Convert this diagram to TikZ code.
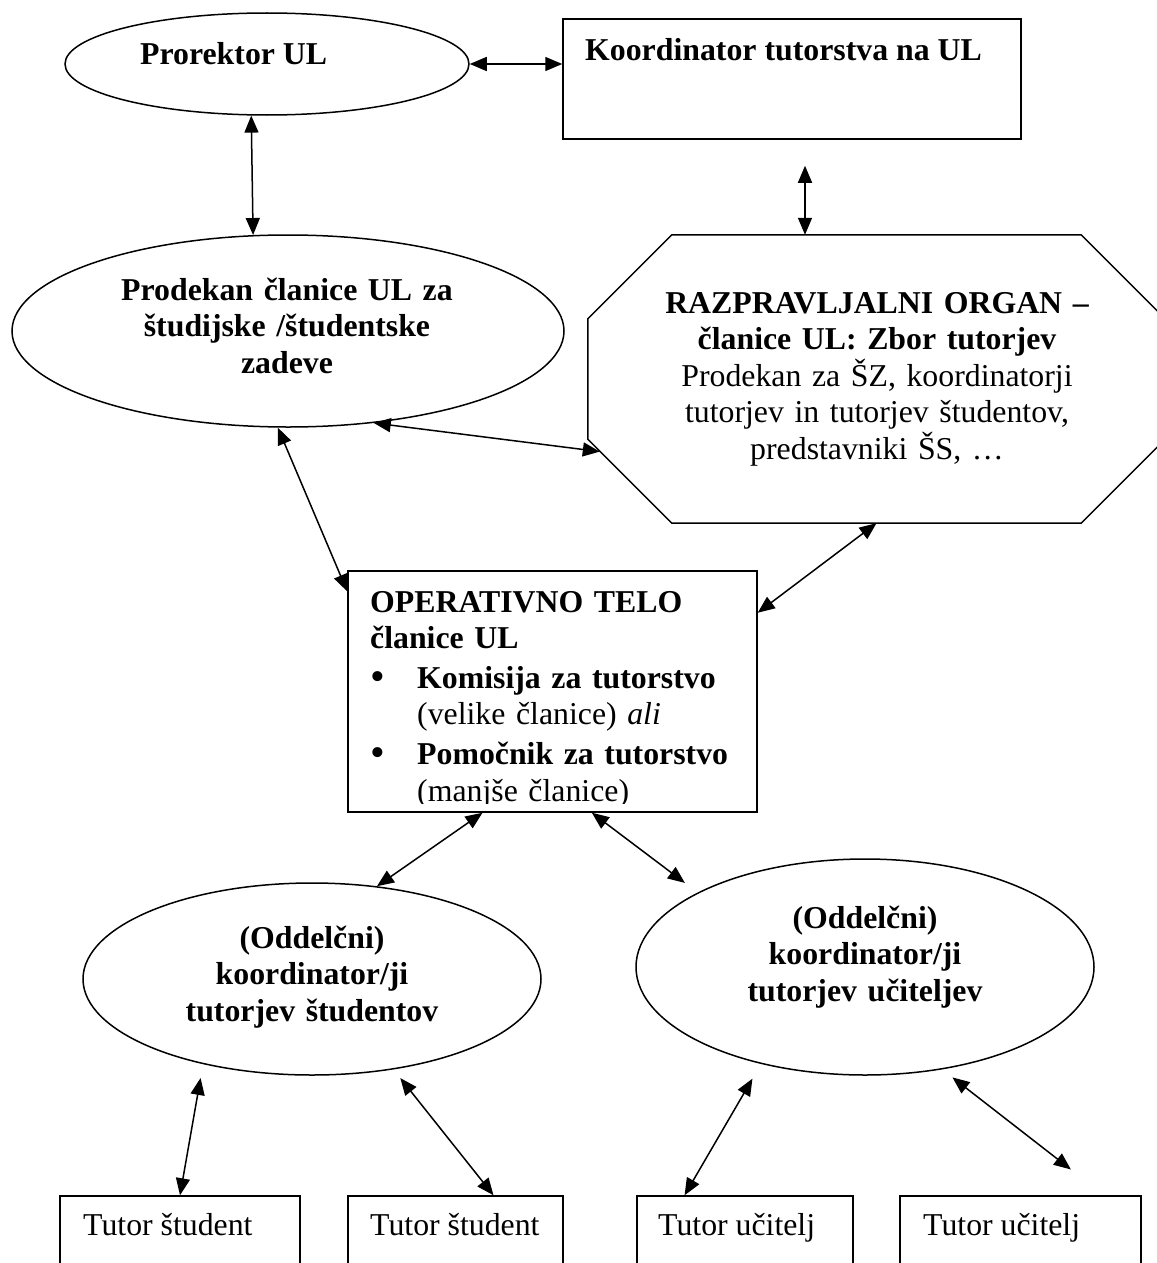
\documentclass[tikz,border=0pt]{standalone}
\usepackage{fontspec}
\setmainfont{Liberation Serif}
\usetikzlibrary{shapes.geometric,arrows.meta}
\newcommand{\diafont}{\fontsize{31.8pt}{36.6pt}\selectfont}
\newcommand{\bigbullet}{\raisebox{-2.5pt}{\fontsize{42pt}{36pt}\selectfont\textbullet}}
\begin{document}
\begin{tikzpicture}[x=1pt, y=-1pt, >={Triangle[length=17pt,width=14pt]},
    every node/.style={inner sep=0pt, font=\diafont}]
    \tikzstyle{oval}=[ellipse, draw, line width=1.5pt]
    \tikzstyle{box}=[rectangle, draw, line width=1.5pt]
    \tikzstyle{txt}=[anchor=base west]
    \tikzstyle{mid}=[anchor=base, align=center]
    \tikzstyle{conn}=[<->, line width=1.5pt]
    \useasboundingbox (0,0) rectangle (1156,1263);
    % shapes
    \node[oval, minimum width=404pt, minimum height=102pt] (prorektor) at (267,64) {};
    \node[box, minimum width=458pt, minimum height=120pt] (koord) at (792,79) {};
    \node[oval, minimum width=552pt, minimum height=192pt] (prodekan) at (288,331) {};
    \node[minimum width=577pt, minimum height=288pt] (organ) at (876.5,379) {};
    \draw[line width=1.5pt] ([xshift=84pt]organ.north west) -- ([xshift=-84pt]organ.north east)
        -- ([yshift=-84pt]organ.north east) -- ([yshift=84pt]organ.south east)
        -- ([xshift=-84pt]organ.south east) -- ([xshift=84pt]organ.south west)
        -- ([yshift=84pt]organ.south west) -- ([yshift=-84pt]organ.north west) -- cycle;
    \node[box, minimum width=409pt, minimum height=241pt] (operativno) at (552.5,691.5) {};
    \node[oval, minimum width=458pt, minimum height=192pt] (studenti) at (312,979) {};
    \node[oval, minimum width=458pt, minimum height=216pt] (ucitelji) at (865,967) {};
    \node[box, minimum width=240pt, minimum height=80pt] (tutor1) at (180,1236) {};
    \node[box, minimum width=215pt, minimum height=80pt] (tutor2) at (455.5,1236) {};
    \node[box, minimum width=216pt, minimum height=80pt] (tutor3) at (745,1236) {};
    \node[box, minimum width=241pt, minimum height=80pt] (tutor4) at (1020.5,1236) {};
    % texts
    \node[txt, font=\diafont\bfseries] (tprorektor) at (140,65) {Prorektor UL};
    \node[txt, font=\diafont\bfseries] (tkoord) at (585,61) {Koordinator tutorstva na UL};
    \node[mid, text width=420pt, font=\diafont\bfseries] (tprodekan) at (287,300) {Prodekan članice UL za\\ študijske /študentske\\ zadeve};
    \node[mid, text width=460pt] (torgan) at (877,313) {\textbf{RAZPRAVLJALNI ORGAN –}\\ \textbf{članice UL: Zbor tutorjev}\\ Prodekan za ŠZ, koordinatorji\\ tutorjev in tutorjev študentov,\\ predstavniki ŠS, …};
    \begin{scope}
        \clip (348,571) rectangle (757,803);
        \node[txt, text width=385pt, align=left] (toperativno) at (370,612) {\textbf{OPERATIVNO TELO}\\ \textbf{članice UL}\\[3pt] \makebox[47pt][l]{\bigbullet}\textbf{Komisija za tutorstvo}\\ \hspace*{47pt}(velike članice) \textit{ali}\\[3pt] \makebox[47pt][l]{\bigbullet}\textbf{Pomočnik za tutorstvo}\\ \hspace*{47pt}(manjše članice)};
    \end{scope}
    \node[mid, text width=400pt, font=\diafont\bfseries] (tstudenti) at (312,948) {(Oddelčni)\\ koordinator/ji\\ tutorjev študentov};
    \node[mid, text width=400pt, font=\diafont\bfseries] (tucitelji) at (865,928) {(Oddelčni)\\ koordinator/ji\\ tutorjev učiteljev};
    \node[txt] (ttutor1) at (83,1235) {Tutor študent};
    \node[txt] (ttutor2) at (370,1235) {Tutor študent};
    \node[txt] (ttutor3) at (658,1235) {Tutor učitelj};
    \node[txt] (ttutor4) at (923,1235) {Tutor učitelj};
    % connectors
    \draw[conn] (prorektor.east) -- (prorektor.east -| koord.west);
    \draw[conn] (prorektor.253.6) -- (prodekan.110.7);
    \draw[conn, shorten <=26pt] ([xshift=13pt]koord.south) -- ([xshift=-71.5pt]organ.north);
    \draw[conn] (prodekan.-47) -- ([shift={(12pt,-72.6pt)}]organ.west);
    \draw[conn] (prodekan.264) -- (operativno.154.3);
    \draw[conn] (organ.south) -- (operativno.21);
    \draw[conn] (operativno.240) -- (studenti.55.7);
    \draw[conn, shorten >=16pt] (operativno.288.4) -- (ucitelji.156.4);
    \draw[conn, shorten >=14pt] (tutor1.north) -- (studenti.218.4);
    \draw[conn, shorten >=11pt] (tutor2.47.6) -- (studenti.-48.7);
    \draw[conn, shorten >=17pt] (tutor3.146.7) -- (ucitelji.223);
    \draw[conn, shorten <=42pt, shorten >=13pt] (tutor4.26.4) -- (ucitelji.-53.7);
\end{tikzpicture}
\end{document}
